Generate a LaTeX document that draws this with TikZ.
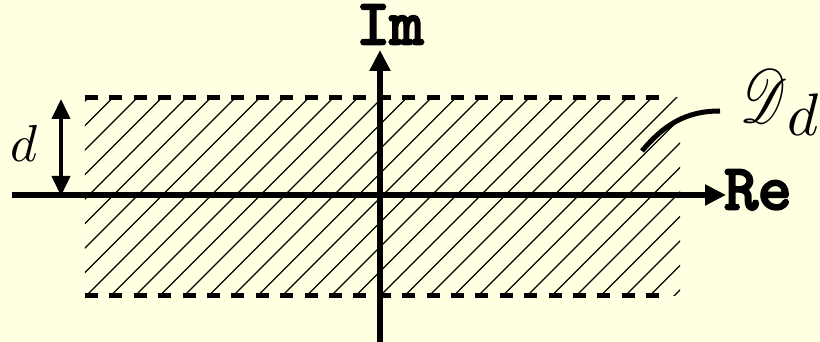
\documentclass[tikz,border=0pt]{standalone}
\usepackage{fontspec}
\usepackage{mathrsfs}
\usepackage{graphicx}
\newfontfamily\axisfont[FakeBold=4]{lmmono10-regular.otf}
\definecolor{slidebg}{RGB}{255,255,225}
\usetikzlibrary{arrows.meta}
\tikzset{
  axisline/.style={line width=6pt,-{Triangle[length=21pt,width=20pt]}},
  edgeline/.style={line width=5pt,dash pattern=on 13pt off 11.4pt},
  hatchline/.style={line width=1.3pt},
  dimarrow/.style={line width=4pt,{Triangle[length=20pt,width=18pt]}-{Triangle[length=20pt,width=18pt]}},
  axislabel/.style={font=\axisfont\fontsize{64}{64}\selectfont,inner sep=0pt,
    text height=32pt,text depth=0pt,anchor=base}
}

\begin{document}
\begin{tikzpicture}[x=1pt,y=1pt]
  \useasboundingbox (-380,-147) rectangle (440,195);
  \fill[slidebg] (-380,-147) rectangle (440,195);
  % hatched strip
  \begin{scope}
    \clip (-295,-101) rectangle (300,97);
    \foreach \k in {-17,...,17}
      \draw[hatchline] (3+24.5*\k-110,-110) -- (3+24.5*\k+110,110);
  \end{scope}
  \draw[edgeline] (-295,97) -- (284,97);
  \draw[edgeline] (-295,-101) -- (284,-101);
  % axes
  \coordinate (reTail) at (-368,0);
  \coordinate (reTip) at (346,0);
  \coordinate (imTail) at (0,-150);
  \coordinate (imTip) at (0,145);
  \draw[axisline] (reTail) -- (reTip);
  \draw[axisline] (imTail) -- (imTip);
  \node[axislabel] (reLabel) at (378,-14) {Re};
  \node[axislabel] (imLabel) at (10,151) {Im};
  % width d
  \coordinate (dTop) at (-319,96);
  \coordinate (dBot) at (-319,-1);
  \draw[dimarrow] (dTop) -- (dBot);
  \node[inner sep=0pt,anchor=base] (dLabel) at (-356,33) {\scalebox{5.2}{$d$}};
  % strip name
  \node[inner sep=0pt,anchor=base west] (stripLabel) at (360,72)
    {\scalebox{5.4}[7.6]{$\mathscr{D}$}\raisebox{-13pt}{\scalebox{6}{$d$}}};
  \coordinate (tagStart) at (340,84);
  \coordinate (tagEnd) at (262,44);
  \draw[line width=5pt] (tagStart) to[out=180,in=50] (tagEnd);
\end{tikzpicture}
\end{document}
